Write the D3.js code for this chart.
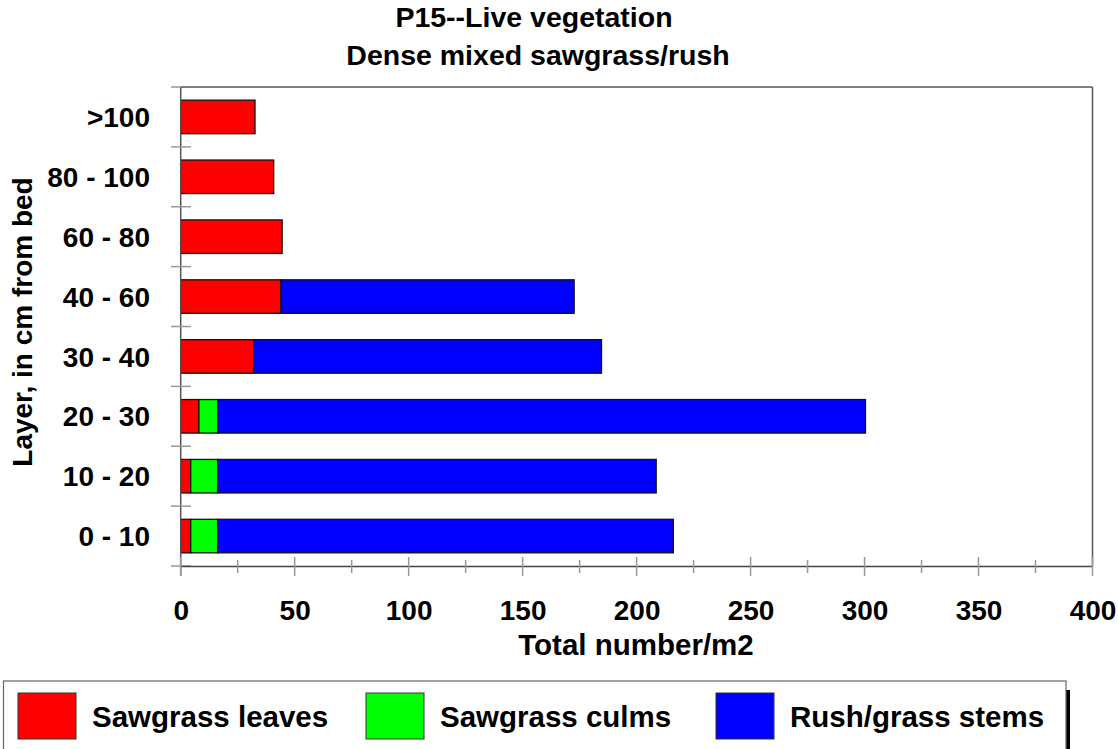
<!DOCTYPE html>
<html>
<head>
<meta charset="utf-8">
<script src="https://cdn.jsdelivr.net/npm/d3@7"></script>
<style>
  html, body { margin: 0; padding: 0; background: #fff; }
  svg { display: block; }
  text { font-family: "Liberation Sans", Arial, sans-serif; font-weight: bold; fill: #000; }
</style>
</head>
<body>
<svg id="chart" width="1118" height="749"></svg>
<script>
// Layers, bottom to top
const layers = ["0 - 10", "10 - 20", "20 - 30", "30 - 40", "40 - 60", "60 - 80", "80 - 100", ">100"];
// Counts per square metre for each component
const sawgrassLeaves = [4.4, 4.4, 8.0, 32.0, 44.0, 44.5, 40.8, 32.6];
const sawgrassCulms  = [11.8, 11.8, 8.2, 0, 0, 0, 0, 0];
const rushStems      = [199.9, 192.4, 284.2, 152.6, 128.6, 0, 0, 0];
const seriesNames  = ["Sawgrass leaves", "Sawgrass culms", "Rush/grass stems"];
const seriesColors = ["#ff0000", "#00ff00", "#0000ff"];
const xTicks = [0, 50, 100, 150, 200, 250, 300, 350, 400];

const svg = d3.select("#chart");
const plotLeft = 180.7, plotRight = 1092.5, plotTop = 87, plotBottom = 566;

const x = d3.scaleLinear().domain([0, 400]).range([plotLeft, plotRight]);
const y = d3.scaleBand()
  .domain(layers.slice().reverse())
  .range([plotTop, plotBottom])
  .paddingInner(0.44)
  .paddingOuter(0.22);

// Stacked table
const table = layers.map((l, i) => ({
  layer: l,
  "Sawgrass leaves": sawgrassLeaves[i],
  "Sawgrass culms": sawgrassCulms[i],
  "Rush/grass stems": rushStems[i]
}));
const stacked = d3.stack().keys(seriesNames)(table);

// Frame: top and right edges
svg.append("line").attr("x1", plotLeft).attr("x2", plotRight).attr("y1", plotTop).attr("y2", plotTop)
  .attr("stroke", "#555").attr("stroke-width", 1.5);
svg.append("line").attr("x1", plotRight).attr("x2", plotRight).attr("y1", plotTop).attr("y2", plotBottom)
  .attr("stroke", "#555").attr("stroke-width", 1.5);

// Bars
stacked.forEach((s, si) => {
  svg.append("g").selectAll("rect")
    .data(s.filter(d => d[1] - d[0] > 0))
    .join("rect")
    .attr("x", d => x(d[0]))
    .attr("y", d => y(d.data.layer))
    .attr("width", d => x(d[1]) - x(d[0]))
    .attr("height", y.bandwidth())
    .attr("fill", seriesColors[si])
    .attr("stroke", "#111")
    .attr("stroke-width", 1.3);
});

// Y axis line and boundary ticks
svg.append("line").attr("x1", plotLeft).attr("x2", plotLeft).attr("y1", plotTop).attr("y2", plotBottom + 10)
  .attr("stroke", "#555").attr("stroke-width", 1.5);
const step = y.step();
const y0 = y.range()[0];
d3.range(layers.length + 1).forEach(i => {
  const yy = y0 + i * step;
  svg.append("line")
    .attr("x1", 171).attr("x2", i === 0 ? plotLeft : 191)
    .attr("y1", yy).attr("y2", yy)
    .attr("stroke", "#999").attr("stroke-width", 1.5);
});

// Y tick labels
svg.append("g").selectAll("text")
  .data(layers)
  .join("text")
  .attr("x", 150)
  .attr("y", d => y(d) + y.bandwidth() / 2)
  .attr("dy", "0.36em")
  .attr("text-anchor", "end")
  .attr("font-size", 28)
  .text(d => d);

// X axis
const xAxis = d3.axisBottom(x).tickValues(xTicks).tickSize(0).tickFormat(d3.format("d"));
const gx = svg.append("g").attr("transform", `translate(0,${plotBottom})`).call(xAxis);
gx.select(".domain").attr("stroke", "#444").attr("stroke-width", 1.5);
gx.selectAll("text")
  .attr("font-size", 28)
  .attr("font-family", "Liberation Sans, Arial, sans-serif")
  .attr("font-weight", "bold")
  .attr("fill", "#000")
  .attr("y", 54)
  .attr("dy", 0);
// Major and minor ticks straddling the axis
d3.range(0, 401, 25).forEach(v => {
  const major = v % 50 === 0;
  svg.append("line")
    .attr("x1", x(v)).attr("x2", x(v))
    .attr("y1", major ? plotBottom - 9 : plotBottom - 6)
    .attr("y2", major ? plotBottom + 10 : plotBottom + 7)
    .attr("stroke", "#999").attr("stroke-width", 1.5);
});

// Axis titles
svg.append("text").attr("x", 636).attr("y", 655)
  .attr("text-anchor", "middle").attr("font-size", 29.5).text("Total number/m2");
svg.append("text")
  .attr("transform", "translate(32,322) rotate(-90)")
  .attr("text-anchor", "middle").attr("font-size", 28).text("Layer, in cm from bed");

// Chart title
svg.append("text").attr("x", 534).attr("y", 27).attr("text-anchor", "middle")
  .attr("font-size", 28.5).text("P15--Live vegetation");
svg.append("text").attr("x", 538).attr("y", 65).attr("text-anchor", "middle")
  .attr("font-size", 28.5).text("Dense mixed sawgrass/rush");

// Legend box with shadow on the right
svg.append("rect").attr("x", 1066).attr("y", 690).attr("width", 4).attr("height", 70).attr("fill", "#000");
svg.append("rect").attr("x", 3.5).attr("y", 681).attr("width", 1062.5).attr("height", 80)
  .attr("fill", "#fff").attr("stroke", "#666").attr("stroke-width", 1.2);
const legendX = [18, 366, 716];
seriesNames.forEach((n, i) => {
  svg.append("rect").attr("x", legendX[i]).attr("y", 693).attr("width", 58).attr("height", 46)
    .attr("fill", seriesColors[i]).attr("stroke", "#333").attr("stroke-width", 1);
  svg.append("text").attr("x", legendX[i] + 74).attr("y", 727)
    .attr("font-size", 29.5).text(n);
});
</script>
</body>
</html>
